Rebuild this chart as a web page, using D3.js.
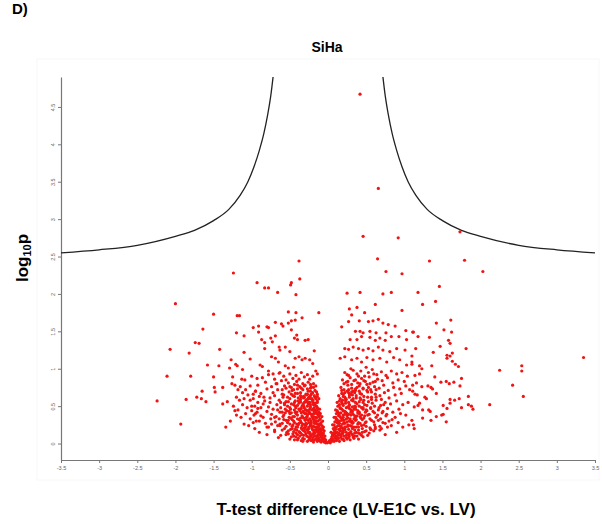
<!DOCTYPE html>
<html><head><meta charset="utf-8">
<script src="https://cdn.jsdelivr.net/npm/d3@7"></script>
<style>body{margin:0;background:#fff;}svg{display:block;font-family:Arial,"Liberation Sans",sans-serif;}</style>
</head><body>
<script>
// ---- data ----
const xTicks = [-3.5,-3,-2.5,-2,-1.5,-1,-0.5,0,0.5,1,1.5,2,2.5,3,3.5];
const yTicks = [0,0.5,1,1.5,2,2.5,3,3.5,4,4.5];
const curveLeftX = [-3.5,-3.0,-2.5,-2.0,-1.75,-1.5,-1.3,-1.15,-1.05,-0.97,-0.9,-0.84,-0.79,-0.75,-0.72];
const curveLeftY = [2.55,2.59,2.65,2.77,2.85,2.98,3.13,3.32,3.50,3.70,3.92,4.15,4.40,4.65,4.90];
const curveRightX = [0.72,0.75,0.79,0.84,0.9,0.97,1.05,1.15,1.3,1.5,1.75,2.0,2.5,3.0,3.5];
const curveRightY = [4.90,4.65,4.40,4.15,3.92,3.70,3.50,3.32,3.13,2.98,2.85,2.77,2.65,2.59,2.55];
const topPoints = [[0.42,4.67],[0.66,3.41],[0.46,2.77],[0.92,2.75],[1.73,2.83]];
const sparseLeft = [[-1.24,2.28],[-0.93,2.15],[-2.00,1.87],[-1.50,1.73],[-1.19,1.71],[-1.16,1.71],[-1.64,1.53],[-1.20,1.48],[-0.98,1.55],[-0.91,1.57],[-0.91,1.49],[-1.10,1.44],[-1.74,1.35],[-1.69,1.34],[-2.07,1.26],[-1.82,1.21],[-1.42,1.26],[-1.10,1.22],[-1.27,1.12],[-1.02,1.13],[-1.58,1.05],[-1.43,1.04],[-1.29,1.01],[-1.21,1.06],[-1.19,1.04],[-1.12,0.99],[-2.11,0.90],[-1.80,0.90],[-1.50,0.89],[-1.25,0.89],[-1.09,0.85],[-0.93,0.87],[-1.26,0.80],[-1.02,0.77],[-1.49,0.75],[-1.48,0.69],[-1.38,0.75],[-1.65,0.70],[-1.72,0.62],[-1.66,0.60],[-1.60,0.56],[-1.86,0.59],[-2.24,0.57],[-1.38,0.53],[-1.32,0.56],[-1.93,0.26],[-1.34,0.22],
[-0.38,2.44],[-0.83,2.08],[-0.78,2.08],[-0.49,2.12],[-0.48,2.15],[-0.37,2.20],[-0.66,2.02],[-0.42,1.99],[-0.52,1.76],[-0.42,1.75],[-0.12,1.75],[-0.80,1.56],[-0.78,1.55],[-0.69,1.62],[-0.61,1.60],[-0.59,1.57],[-0.52,1.61],[-0.48,1.64],[-0.43,1.65],[-0.34,1.68],[-0.48,1.52],[-0.41,1.45],[-0.44,1.41],[-0.40,1.39],[-0.87,1.39],[-0.83,1.35],[-0.75,1.41],[-0.73,1.36],[-0.69,1.44],[-0.30,1.38],[-0.26,1.39],[-0.83,1.27],[-0.64,1.29],[-0.63,1.25],[-0.56,1.29],[-0.50,1.23],[-0.18,1.24],[-0.74,1.16],[-0.69,1.14],[-0.65,1.09],[-0.89,1.05],[-0.86,1.03],[-0.43,1.14],[-0.38,1.16],[-0.34,1.12],[-0.30,1.14],[-0.24,1.12],[-0.20,1.07],[-0.56,1.04],[-0.52,1.01],[-0.45,1.02],[-0.78,0.97],[-0.72,0.93],[-0.63,0.95],[-0.16,0.97],[-0.14,0.93],
[-1.22,0.78],[-1.18,0.72],[-1.15,0.76],[-1.12,0.68],[-1.08,0.72],[-1.05,0.65],[-1.20,0.62],[-1.16,0.58],[-1.10,0.60],[-1.02,0.58],[-0.98,0.66],[-0.95,0.70],[-1.24,0.50],[-1.18,0.45],[-1.12,0.52],[-1.06,0.48],[-1.00,0.44],[-0.96,0.50],[-0.92,0.55],[-1.20,0.38],[-1.14,0.35],[-1.08,0.40],[-1.02,0.33],[-0.97,0.38],[-0.93,0.42],[-1.10,0.26],[-1.04,0.24],[-0.98,0.28],[-0.94,0.30],[-1.28,0.30],[-1.22,0.44],[-0.96,0.20],[-1.13,0.86],[-1.00,0.90]];
const sparseRight = [[0.65,2.47],[0.76,2.30],[0.97,2.27],[0.25,2.01],[0.42,2.02],[0.72,2.00],[0.83,2.02],[0.62,1.86],[0.28,1.80],[0.38,1.82],[0.48,1.75],[0.97,1.78],[0.31,1.72],[0.18,1.56],[0.27,1.63],[0.41,1.64],[0.53,1.63],[0.59,1.64],[0.66,1.66],[0.72,1.61],[0.79,1.59],[0.88,1.57],[0.36,1.50],[0.42,1.50],[0.46,1.48],[0.55,1.50],[0.63,1.48],[0.76,1.48],[1.02,1.51],[1.12,1.49],
[0.29,1.39],[0.38,1.39],[0.44,1.43],[0.55,1.42],[0.62,1.38],[0.68,1.41],[0.75,1.38],[0.83,1.43],[0.93,1.43],[1.03,1.39],
[0.22,1.27],[0.27,1.26],[0.33,1.29],[0.40,1.27],[0.46,1.25],[0.53,1.27],[0.59,1.24],[0.66,1.29],[0.72,1.25],[0.81,1.23],[0.90,1.27],[1.01,1.25],
[0.16,1.14],[0.22,1.16],[0.31,1.12],[0.38,1.14],[0.44,1.09],[0.51,1.15],[0.59,1.12],[0.68,1.14],[0.77,1.09],[0.86,1.15],[0.94,1.12],[1.03,1.05],[1.10,1.09],
[1.33,2.44],[1.79,2.45],[2.03,2.30],[1.18,2.02],[1.46,2.10],[1.41,1.90],[1.24,1.86],[1.42,1.61],[1.61,1.65],[1.11,1.49],[1.52,1.52],[1.62,1.49],[1.18,1.43],[1.33,1.42],[1.58,1.38],[1.60,1.34],[1.47,1.30],[1.81,1.27],[1.15,1.27],[1.38,1.22],[1.56,1.18],[1.56,1.14],[1.60,1.17],[1.63,1.21],[1.10,1.17],[1.63,1.10],[1.67,1.06],[1.71,1.03],[1.10,1.06],[1.20,1.04],[1.23,1.00],[1.36,1.04],
[3.35,1.15],[2.25,0.98],[2.54,1.04],[2.54,0.97],[2.42,0.78],[2.56,0.63],[2.12,0.52],[1.14,0.91],[1.20,0.93],[1.40,0.89],[1.75,0.87],[1.48,0.82],[1.55,0.83],[1.59,0.80],[1.65,0.82],[1.73,0.77],[1.11,0.78],[1.16,0.81],[1.23,0.76],[1.31,0.77],[1.35,0.75],[1.37,0.73],[1.42,0.67],[1.11,0.70],[1.14,0.66],[1.17,0.65],[1.27,0.62],[1.29,0.60],[1.84,0.63],[1.60,0.59],[1.66,0.58],[1.72,0.60],[1.51,0.51],[1.56,0.47],[1.60,0.54],[1.84,0.52],[1.88,0.50],[1.90,0.46],[1.75,0.48],[1.13,0.49],[1.18,0.51],[1.20,0.54],[1.24,0.45],[1.32,0.45],[1.34,0.43],[1.24,0.34],[1.35,0.31],[1.42,0.36],[1.49,0.38],[1.51,0.39],[1.55,0.29],[1.10,0.31],[1.12,0.25],[1.13,0.20],
[1.05,0.55],[1.02,0.38],[1.07,0.72],[1.04,0.90],[1.06,0.25]];
const denseLeft = [
[-0.86,0.88],[-0.78,0.92],[-0.70,0.86],[-0.64,0.94],[-0.58,0.90],[-0.55,0.85],[-0.50,0.93],[-0.46,0.87],[-0.42,0.91],[-0.38,0.86],[-0.35,0.95],[-0.31,0.89],[-0.27,0.92],[-0.24,0.86],[-0.20,0.90],
[-0.92,0.78],[-0.82,0.82],[-0.74,0.76],[-0.67,0.80],[-0.61,0.84],[-0.57,0.77],[-0.52,0.81],[-0.48,0.75],[-0.44,0.79],[-0.41,0.83],[-0.37,0.76],[-0.33,0.80],[-0.30,0.78],[-0.26,0.82],[-0.22,0.76],[-0.19,0.80],[-0.16,0.77],
[-0.95,0.70],[-0.88,0.67],[-0.80,0.73],[-0.72,0.68],[-0.66,0.72],[-0.60,0.66],[-0.55,0.74],[-0.51,0.69],[-0.47,0.71],[-0.43,0.67],[-0.40,0.73],[-0.36,0.68],[-0.33,0.72],[-0.29,0.66],[-0.26,0.70],[-0.23,0.74],[-0.20,0.68],[-0.17,0.71],[-0.14,0.66],
[-0.98,0.60],[-0.90,0.63],[-0.83,0.57],[-0.76,0.61],[-0.70,0.64],[-0.64,0.58],[-0.59,0.62],[-0.55,0.56],[-0.50,0.60],[-0.46,0.64],[-0.43,0.57],[-0.39,0.61],[-0.36,0.59],[-0.32,0.63],[-0.29,0.56],[-0.26,0.60],[-0.23,0.64],[-0.20,0.58],[-0.17,0.62],[-0.14,0.57],[-0.12,0.60],
[-1.00,0.50],[-0.92,0.47],[-0.85,0.53],[-0.78,0.49],[-0.72,0.46],[-0.67,0.52],[-0.62,0.48],[-0.57,0.54],[-0.53,0.50],[-0.49,0.46],[-0.45,0.52],[-0.42,0.48],[-0.38,0.54],[-0.35,0.47],[-0.32,0.51],[-0.29,0.45],[-0.26,0.53],[-0.23,0.49],[-0.20,0.46],[-0.17,0.52],[-0.14,0.48],[-0.11,0.46],
[-0.95,0.40],[-0.88,0.37],[-0.80,0.43],[-0.74,0.39],[-0.68,0.36],[-0.63,0.42],[-0.58,0.38],[-0.54,0.44],[-0.50,0.40],[-0.46,0.36],[-0.43,0.42],[-0.40,0.38],[-0.37,0.44],[-0.34,0.37],[-0.31,0.41],[-0.28,0.35],[-0.25,0.43],[-0.22,0.39],[-0.19,0.36],[-0.16,0.42],[-0.13,0.38],[-0.10,0.40],[-0.08,0.36],
[-0.90,0.30],[-0.82,0.27],[-0.75,0.33],[-0.69,0.29],[-0.63,0.26],[-0.58,0.32],[-0.53,0.28],[-0.49,0.34],[-0.45,0.30],[-0.41,0.26],[-0.38,0.32],[-0.35,0.28],[-0.32,0.34],[-0.29,0.27],[-0.26,0.31],[-0.23,0.25],[-0.20,0.33],[-0.17,0.29],[-0.14,0.26],[-0.11,0.32],[-0.09,0.28],[-0.07,0.30],
[-0.78,0.22],[-0.70,0.18],[-0.63,0.24],[-0.57,0.20],[-0.52,0.17],[-0.47,0.23],[-0.43,0.19],[-0.39,0.25],[-0.35,0.21],[-0.32,0.17],[-0.29,0.23],[-0.26,0.19],[-0.23,0.24],[-0.20,0.18],[-0.17,0.22],[-0.14,0.16],[-0.12,0.24],[-0.10,0.20],[-0.08,0.18],[-0.06,0.22],[-0.05,0.17],
[-0.55,0.12],[-0.48,0.09],[-0.42,0.14],[-0.37,0.10],[-0.33,0.07],[-0.29,0.13],[-0.26,0.09],[-0.23,0.12],[-0.20,0.08],[-0.17,0.14],[-0.15,0.10],[-0.13,0.06],[-0.11,0.12],[-0.09,0.09],[-0.07,0.13],[-0.05,0.07],[-0.04,0.10],[-0.03,0.05],
[-0.22,0.04],[-0.18,0.05],[-0.14,0.03],[-0.11,0.05],[-0.09,0.02],[-0.07,0.04],[-0.05,0.02],[-0.04,0.03],[-0.03,0.01],[-0.02,0.02],[-0.01,0.01],
[-0.30,0.45],[-0.27,0.50],[-0.24,0.55],[-0.21,0.60],[-0.18,0.40],[-0.15,0.50],[-0.28,0.35],[-0.25,0.40],[-0.22,0.30],[-0.19,0.45],[-0.16,0.35],[-0.13,0.30],[-0.31,0.62],[-0.27,0.66],[-0.23,0.70],[-0.20,0.55],[-0.17,0.45],[-0.12,0.40],[-0.34,0.50],[-0.30,0.25],[-0.26,0.20],[-0.22,0.28],[-0.18,0.32],[-0.15,0.22]];
const denseLeft2 = [
[-0.50,0.06],[-0.44,0.05],[-0.39,0.07],[-0.35,0.04],[-0.31,0.06],[-0.27,0.03],[-0.24,0.07],[-0.21,0.05],[-0.19,0.02],[-0.16,0.06],[-0.14,0.04],[-0.12,0.08],[-0.10,0.03],[-0.08,0.06],[-0.06,0.04],
[-0.62,0.11],[-0.52,0.13],[-0.45,0.10],[-0.40,0.12],[-0.36,0.14],[-0.32,0.11],[-0.28,0.10],[-0.25,0.14],[-0.22,0.11],[-0.19,0.13],[-0.16,0.10],[-0.13,0.12],[-0.10,0.15],[-0.08,0.11],[-0.06,0.14],
[-0.70,0.16],[-0.60,0.18],[-0.54,0.15],[-0.49,0.19],[-0.45,0.16],[-0.41,0.18],[-0.37,0.15],[-0.34,0.19],[-0.30,0.16],[-0.27,0.18],[-0.24,0.15],[-0.21,0.20],[-0.18,0.16],[-0.15,0.19],[-0.13,0.17],[-0.09,0.15],[-0.07,0.19],
[-0.74,0.26],[-0.66,0.24],[-0.60,0.27],[-0.55,0.23],[-0.50,0.26],[-0.46,0.25],[-0.42,0.22],[-0.38,0.27],[-0.34,0.24],[-0.31,0.21],[-0.28,0.26],[-0.25,0.22],[-0.22,0.25],[-0.19,0.23],[-0.16,0.27],[-0.13,0.22],[-0.11,0.26],[-0.08,0.24],
[-0.70,0.35],[-0.64,0.33],[-0.59,0.36],[-0.55,0.31],[-0.51,0.35],[-0.47,0.32],[-0.44,0.36],[-0.40,0.33],[-0.36,0.30],[-0.33,0.35],[-0.30,0.31],[-0.27,0.37],[-0.24,0.33],[-0.21,0.36],[-0.18,0.30],[-0.15,0.34],[-0.12,0.36],[-0.10,0.33],
[-0.66,0.45],[-0.60,0.42],[-0.56,0.46],[-0.51,0.43],[-0.48,0.41],[-0.44,0.45],[-0.41,0.42],[-0.37,0.46],[-0.33,0.43],[-0.30,0.40],[-0.27,0.44],[-0.24,0.41],[-0.21,0.45],[-0.18,0.42],[-0.15,0.44],[-0.12,0.42],
[-0.62,0.55],[-0.57,0.52],[-0.52,0.56],[-0.48,0.53],[-0.44,0.55],[-0.40,0.51],[-0.36,0.56],[-0.33,0.53],[-0.29,0.58],[-0.26,0.55],[-0.23,0.52],[-0.20,0.57],[-0.17,0.54],[-0.14,0.55],
[-0.58,0.65],[-0.53,0.62],[-0.48,0.66],[-0.44,0.63],[-0.40,0.67],[-0.36,0.64],[-0.32,0.61],[-0.28,0.65],[-0.25,0.62],[-0.22,0.66],[-0.18,0.64],[-0.15,0.69],
[-0.50,0.76],[-0.45,0.72],[-0.40,0.78],[-0.35,0.74],[-0.31,0.77],[-0.27,0.73],[-0.23,0.79],[-0.19,0.75],
[-0.85,0.35],[-0.80,0.22],[-0.88,0.48],[-0.76,0.55],[-0.84,0.62],[-0.68,0.80],[-0.60,0.72],[-0.90,0.15],[-0.80,0.12],[-0.65,0.08]];
const coreLeft = [
[-0.42,0.09],[-0.38,0.16],[-0.34,0.12],[-0.30,0.20],[-0.26,0.15],[-0.23,0.09],[-0.20,0.13],[-0.17,0.18],[-0.14,0.09],[-0.11,0.18],[-0.08,0.08],[-0.06,0.11],[-0.05,0.05],[-0.09,0.13],
[-0.44,0.28],[-0.40,0.22],[-0.36,0.34],[-0.33,0.26],[-0.29,0.32],[-0.25,0.28],[-0.21,0.22],[-0.18,0.27],[-0.15,0.30],[-0.12,0.20],[-0.10,0.25],[-0.07,0.21],
[-0.42,0.40],[-0.38,0.46],[-0.35,0.41],[-0.31,0.48],[-0.28,0.40],[-0.24,0.46],[-0.21,0.39],[-0.18,0.48],[-0.15,0.40],[-0.13,0.46],[-0.11,0.38],
[-0.43,0.50],[-0.39,0.57],[-0.35,0.62],[-0.31,0.55],[-0.27,0.59],[-0.23,0.60],[-0.19,0.52],[-0.16,0.60],[-0.14,0.63],
[-0.47,0.20],[-0.52,0.31],[-0.56,0.41],[-0.50,0.48],[-0.46,0.13],[-0.40,0.05],[-0.33,0.03],[-0.25,0.05],[-0.18,0.10],[-0.12,0.14]];
const denseRight = [
[0.22,0.95],[0.27,0.91],[0.33,0.98],[0.38,0.93],[0.43,0.97],[0.48,0.90],[0.53,0.95],[0.58,0.99],[0.64,0.92],[0.70,0.96],[0.76,0.91],[0.83,0.97],[0.90,0.93],[0.97,0.95],
[0.19,0.85],[0.24,0.82],[0.29,0.88],[0.34,0.84],[0.39,0.81],[0.44,0.87],[0.49,0.83],[0.54,0.89],[0.59,0.82],[0.65,0.86],[0.71,0.84],[0.78,0.88],[0.85,0.81],[0.92,0.85],[1.00,0.83],
[0.17,0.75],[0.21,0.72],[0.26,0.78],[0.31,0.74],[0.36,0.71],[0.41,0.77],[0.46,0.73],[0.51,0.79],[0.56,0.72],[0.61,0.76],[0.67,0.74],[0.73,0.78],[0.79,0.71],[0.86,0.75],[0.94,0.73],[1.02,0.77],
[0.14,0.64],[0.18,0.67],[0.22,0.62],[0.27,0.68],[0.32,0.65],[0.37,0.61],[0.42,0.67],[0.47,0.63],[0.52,0.69],[0.57,0.62],[0.62,0.66],[0.68,0.64],[0.74,0.68],[0.80,0.61],[0.88,0.65],[0.96,0.67],
[0.12,0.55],[0.15,0.52],[0.19,0.58],[0.23,0.54],[0.28,0.51],[0.33,0.57],[0.38,0.53],[0.43,0.59],[0.48,0.52],[0.53,0.56],[0.58,0.54],[0.63,0.58],[0.69,0.51],[0.75,0.55],[0.82,0.53],[0.90,0.57],[0.98,0.52],
[0.10,0.45],[0.13,0.42],[0.16,0.48],[0.20,0.44],[0.24,0.41],[0.28,0.47],[0.32,0.43],[0.36,0.49],[0.41,0.42],[0.46,0.46],[0.51,0.44],[0.56,0.48],[0.61,0.41],[0.66,0.45],[0.72,0.43],[0.78,0.47],[0.85,0.42],[0.93,0.46],
[0.08,0.35],[0.11,0.32],[0.14,0.38],[0.17,0.34],[0.21,0.31],[0.25,0.37],[0.29,0.33],[0.33,0.39],[0.37,0.32],[0.42,0.36],[0.47,0.34],[0.52,0.38],[0.57,0.31],[0.63,0.35],[0.69,0.33],[0.76,0.37],[0.84,0.32],
[0.06,0.25],[0.09,0.22],[0.12,0.28],[0.15,0.24],[0.18,0.21],[0.22,0.27],[0.26,0.23],[0.30,0.29],[0.34,0.22],[0.39,0.26],[0.44,0.24],[0.49,0.28],[0.55,0.21],[0.61,0.25],[0.68,0.23],[0.75,0.27],[0.83,0.24],[0.92,0.28],
[0.04,0.15],[0.06,0.12],[0.08,0.18],[0.10,0.14],[0.13,0.11],[0.16,0.17],[0.19,0.13],[0.22,0.19],[0.26,0.12],[0.30,0.16],[0.35,0.14],[0.40,0.18],[0.45,0.15],[0.50,0.17],[0.56,0.19],[0.62,0.20],
[0.01,0.02],[0.02,0.04],[0.03,0.01],[0.04,0.06],[0.05,0.03],[0.07,0.05],[0.09,0.08],[0.11,0.04],[0.14,0.07],[0.17,0.09],[0.20,0.06],[0.24,0.08],[0.28,0.10],[0.33,0.09],[0.38,0.10],
[0.15,0.30],[0.20,0.35],[0.25,0.40],[0.30,0.45],[0.35,0.50],[0.18,0.55],[0.23,0.60],[0.28,0.65],[0.33,0.70],[0.38,0.75],[0.21,0.20],[0.26,0.25],[0.31,0.30],[0.36,0.35],[0.41,0.40],[0.12,0.15],[0.17,0.10],[0.22,0.18],[0.27,0.12],[0.32,0.20]];
const denseRight2 = [
[0.06,0.06],[0.08,0.03],[0.10,0.07],[0.12,0.05],[0.15,0.03],[0.18,0.06],[0.21,0.04],[0.25,0.06],[0.29,0.05],[0.34,0.07],[0.40,0.06],[0.46,0.09],[0.52,0.11],
[0.06,0.10],[0.08,0.13],[0.11,0.10],[0.14,0.14],[0.17,0.12],[0.20,0.15],[0.24,0.11],[0.28,0.14],[0.32,0.12],[0.37,0.15],[0.42,0.13],[0.48,0.16],[0.54,0.14],[0.60,0.17],[0.68,0.18],
[0.07,0.20],[0.09,0.17],[0.11,0.22],[0.14,0.19],[0.17,0.23],[0.20,0.18],[0.23,0.22],[0.27,0.19],[0.31,0.23],[0.35,0.18],[0.40,0.22],[0.45,0.20],[0.50,0.23],[0.56,0.19],[0.62,0.22],[0.70,0.20],[0.78,0.22],
[0.09,0.29],[0.12,0.32],[0.15,0.27],[0.18,0.31],[0.21,0.28],[0.24,0.33],[0.28,0.30],[0.32,0.27],[0.36,0.31],[0.40,0.28],[0.45,0.32],[0.50,0.29],[0.55,0.33],[0.60,0.29],[0.66,0.31],[0.72,0.28],[0.80,0.30],
[0.11,0.40],[0.14,0.37],[0.17,0.41],[0.20,0.38],[0.23,0.42],[0.27,0.39],[0.31,0.42],[0.35,0.37],[0.39,0.41],[0.44,0.38],[0.49,0.42],[0.54,0.39],[0.59,0.43],[0.65,0.38],[0.71,0.41],[0.77,0.39],
[0.13,0.50],[0.16,0.47],[0.20,0.51],[0.24,0.48],[0.28,0.52],[0.32,0.49],[0.36,0.46],[0.41,0.50],[0.46,0.48],[0.51,0.51],[0.56,0.47],[0.61,0.50],[0.67,0.48],[0.73,0.52],
[0.16,0.60],[0.20,0.63],[0.24,0.59],[0.28,0.62],[0.33,0.60],[0.37,0.64],[0.42,0.61],[0.47,0.58],[0.52,0.62],[0.57,0.59],[0.63,0.62],[0.70,0.59],
[0.18,0.71],[0.22,0.68],[0.27,0.72],[0.31,0.69],[0.36,0.73],[0.41,0.70],[0.46,0.74],[0.51,0.71],[0.57,0.69],[0.63,0.72],
[0.21,0.80],[0.26,0.83],[0.31,0.79],[0.36,0.85],[0.42,0.80],[0.47,0.84],[0.55,0.80],[0.62,0.83],
[0.25,0.92],[0.30,1.00],[0.40,0.90],[0.50,1.02],[0.60,0.93],[0.88,0.35],[0.95,0.40],[0.90,0.15],[0.98,0.22],[0.75,0.12]];
const coreRight = [
[0.05,0.09],[0.07,0.14],[0.09,0.11],[0.12,0.08],[0.15,0.12],[0.18,0.16],[0.21,0.10],[0.24,0.15],[0.27,0.08],[0.31,0.13],[0.35,0.10],[0.40,0.14],[0.44,0.11],
[0.08,0.25],[0.10,0.19],[0.13,0.24],[0.16,0.20],[0.19,0.26],[0.22,0.22],[0.25,0.29],[0.29,0.24],[0.33,0.28],[0.37,0.22],[0.42,0.27],[0.47,0.25],
[0.10,0.35],[0.13,0.29],[0.16,0.36],[0.19,0.33],[0.22,0.39],[0.26,0.34],[0.30,0.38],[0.34,0.33],[0.38,0.37],[0.43,0.34],[0.48,0.37],
[0.12,0.44],[0.15,0.40],[0.18,0.46],[0.22,0.43],[0.26,0.49],[0.30,0.42],[0.34,0.46],[0.39,0.44],[0.44,0.48],[0.50,0.45],
[0.15,0.57],[0.19,0.53],[0.23,0.57],[0.27,0.55],[0.31,0.58],[0.36,0.55],[0.41,0.56],[0.46,0.55],
[0.20,0.66],[0.25,0.70],[0.30,0.66],[0.35,0.68],[0.44,0.66],[0.53,0.75]];

// ---- drawing ----
const W = 602, H = 524;
const svg = d3.select("body").append("svg").attr("width", W).attr("height", H);

const x = d3.scaleLinear().domain([-3.5, 3.5]).range([61, 595]);
const y = d3.scaleLinear().domain([-0.22, 4.9]).range([460, 77]);

// faint frame
svg.append("rect").attr("x", 37).attr("y", 59).attr("width", 562).attr("height", 421)
  .attr("fill", "none").attr("stroke", "#f8f8f8").attr("stroke-width", 1);

// axes
const xAxis = svg.append("g").attr("transform", `translate(0,${y.range()[0]})`)
  .call(d3.axisBottom(x).tickValues(xTicks).tickSize(3).tickSizeOuter(0).tickFormat(d => String(d)));
xAxis.selectAll("text").attr("font-size", 5.5).attr("fill", "#666").attr("y", 6).attr("font-family", "Arial, 'Liberation Sans', sans-serif");

const yAxis = svg.append("g").attr("transform", `translate(${x.range()[0]},0)`)
  .call(d3.axisLeft(y).tickValues(yTicks).tickSize(3).tickSizeOuter(0).tickFormat(d => String(d)));
yAxis.selectAll("text").attr("font-size", 5.5).attr("fill", "#666")
  .attr("transform", "rotate(-90)").attr("x", 0).attr("y", -6).attr("dy", 0)
  .style("text-anchor", "middle").attr("font-family", "Arial, 'Liberation Sans', sans-serif");
[xAxis, yAxis].forEach(g => {
  g.select(".domain").attr("stroke", "#777").attr("stroke-width", 1.2);
  g.selectAll(".tick line").attr("stroke", "#777");
});

// threshold curves
const line = d3.line().x(d => x(d[0])).y(d => y(d[1])).curve(d3.curveMonotoneX);
svg.append("path").datum(curveLeftX.map((v, i) => [v, curveLeftY[i]]))
  .attr("d", line).attr("fill", "none").attr("stroke", "#222").attr("stroke-width", 1.3);
svg.append("path").datum(curveRightX.map((v, i) => [v, curveRightY[i]]))
  .attr("d", line).attr("fill", "none").attr("stroke", "#222").attr("stroke-width", 1.3);

// points
const pts = [].concat(denseLeft, denseLeft2, coreLeft, denseRight, denseRight2, coreRight, sparseLeft, sparseRight, topPoints);
svg.append("g").selectAll("circle").data(pts).join("circle")
  .attr("cx", d => x(d[0])).attr("cy", d => y(d[1])).attr("r", 1.6).attr("fill", "#f01414");

// texts
svg.append("text").attr("x", 12).attr("y", 14).attr("font-size", 15).attr("font-weight", "bold").text("D)");
svg.append("text").attr("x", 327).attr("y", 52).attr("text-anchor", "middle")
  .attr("font-size", 14).attr("font-weight", "bold").text("SiHa");
const yl = svg.append("text").attr("transform", "translate(28,258) rotate(-90)").attr("text-anchor", "middle")
  .attr("font-size", 17).attr("font-weight", "bold");
yl.append("tspan").text("log");
yl.append("tspan").attr("font-size", 11).attr("dy", 3).text("10");
yl.append("tspan").attr("dy", -3).text("p");
svg.append("text").attr("x", 346).attr("y", 515).attr("text-anchor", "middle")
  .attr("font-size", 17).attr("font-weight", "bold").text("T-test difference (LV-E1C vs. LV)");
</script>
</body></html>
